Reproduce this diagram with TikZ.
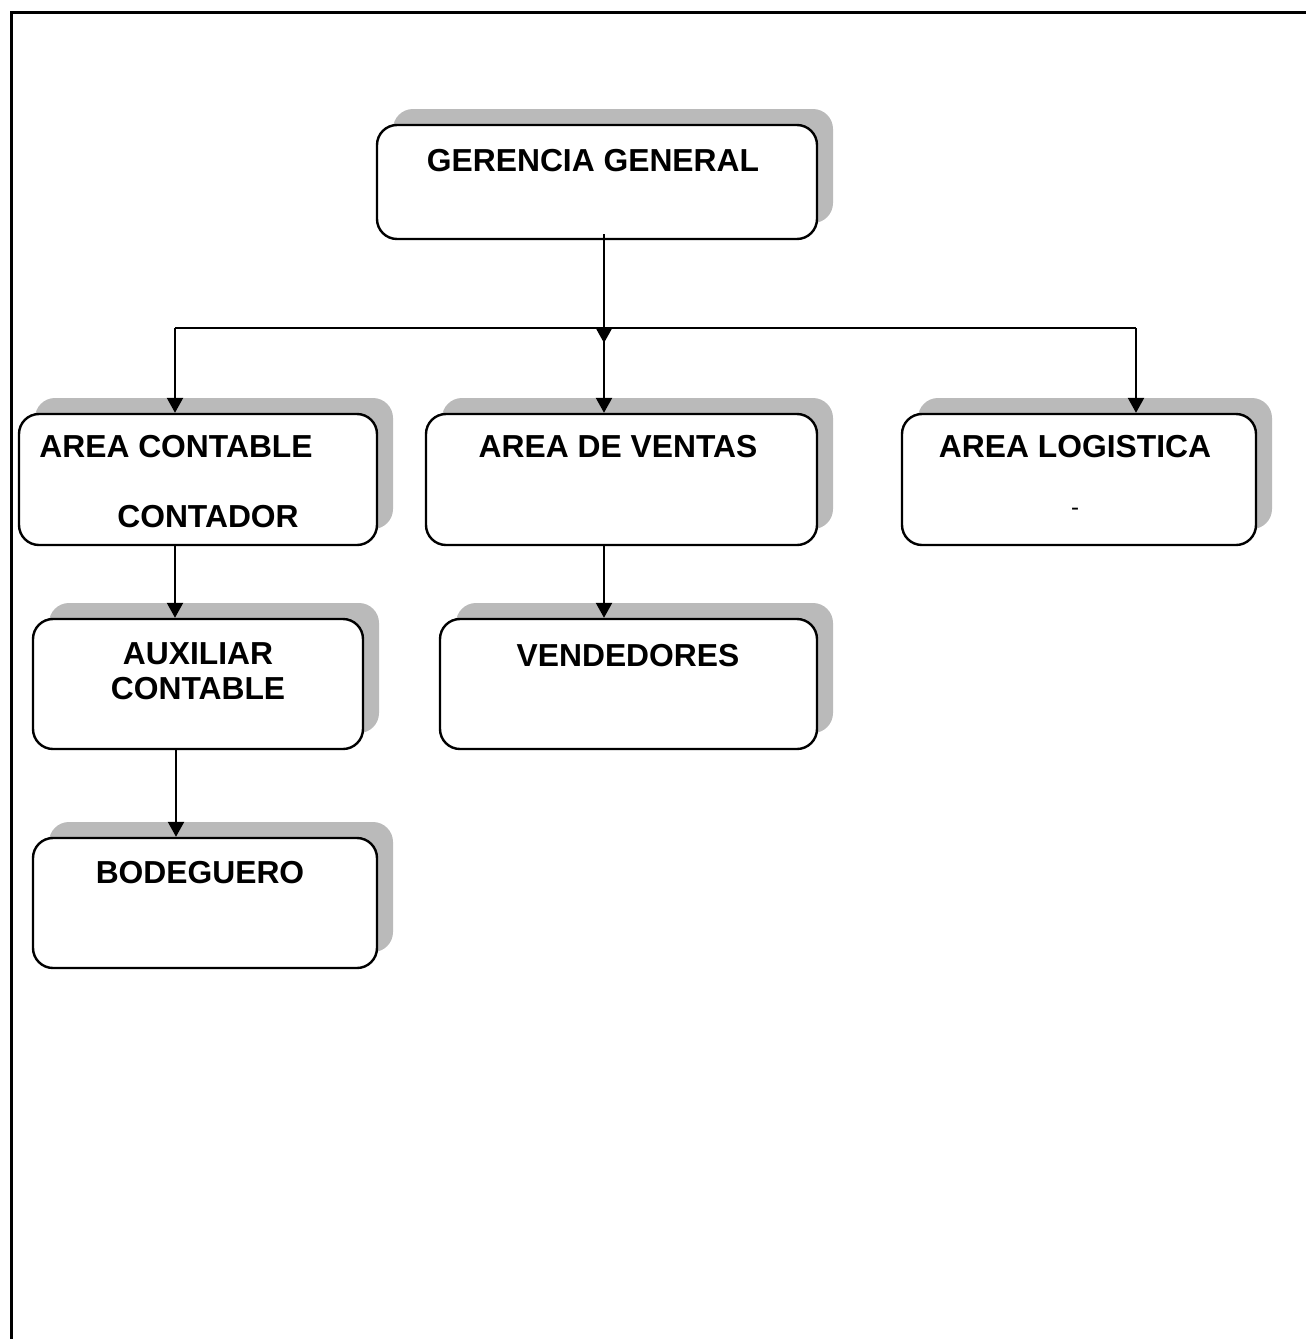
\documentclass[tikz,border=0pt]{standalone}
\usepackage{fontspec}
\setmainfont{Liberation Sans}
\usetikzlibrary{arrows.meta,shadows}
\tikzset{
  orgbox/.style={draw=black, line width=2.4pt, fill=white, rounded corners=20pt, inner sep=0pt,
    copy shadow={shadow xshift=16pt, shadow yshift=16pt, fill=black!27, draw=none}},
  lbl/.style={font=\fontsize{31.8}{36}\selectfont\bfseries, inner sep=0pt},
  link/.style={line width=2.2pt},
  arr/.style={link, -{Triangle[width=16pt,length=15pt]}},
  framepen/.style={line width=3pt}
}
\begin{document}
\begin{tikzpicture}[x=1pt,y=-1pt]
\useasboundingbox (0,0) rectangle (1306,1339);
\draw[framepen] (11,1339) -- (11,12) -- (1306,12);

% boxes
\node[orgbox, minimum width=440pt, minimum height=114pt] (gg) at (597,182) {};
\node[orgbox, minimum width=358pt, minimum height=131pt] (contable) at (198,479.5) {};
\node[orgbox, minimum width=391pt, minimum height=131pt] (ventas) at (621.5,479.5) {};
\node[orgbox, minimum width=354pt, minimum height=131pt] (logistica) at (1079,479.5) {};
\node[orgbox, minimum width=330pt, minimum height=130pt] (aux) at (198,684) {};
\node[orgbox, minimum width=377pt, minimum height=130pt] (vend) at (628.5,684) {};
\node[orgbox, minimum width=344pt, minimum height=130pt] (bod) at (205,903) {};

% labels
\node[lbl] (tgg) at (593,161) {GERENCIA GENERAL};
\node[lbl] (tcont) at (176,447) {AREA CONTABLE};
\node[lbl] (tcontador) at (208,517) {CONTADOR};
\node[lbl] (tventas) at (618,447) {AREA DE VENTAS};
\node[lbl] (tlog) at (1075,447) {AREA LOGISTICA};
\node[font=\fontsize{24}{28}\selectfont, inner sep=0pt] (tdash) at (1075,512) {-};
\node[lbl, align=center] (taux) at (198,671) {AUXILIAR\\[-1pt]CONTABLE};
\node[lbl] (tvend) at (628,656) {VENDEDORES};
\node[lbl] (tbod) at (200,873) {BODEGUERO};

% connectors
\coordinate (jL) at (175,328);
\coordinate (jM) at (604,328);
\coordinate (jR) at (1136,328);
\draw[arr] ([yshift=6pt]gg.south -| jM) -- ([yshift=-15pt]jM);
\draw[link] (jL) -- (jR);
\draw[arr] (jL) -- (contable.north -| jL);
\draw[arr] (jM) -- (ventas.north -| jM);
\draw[arr] (jR) -- (logistica.north -| jR);
\draw[arr] (contable.south -| jL) -- (aux.north -| jL);
\draw[arr] (ventas.south -| jM) -- (vend.north -| jM);
\draw[arr] ([xshift=1pt]aux.south -| jL) -- ([xshift=1pt]bod.north -| jL);
\end{tikzpicture}
\end{document}
